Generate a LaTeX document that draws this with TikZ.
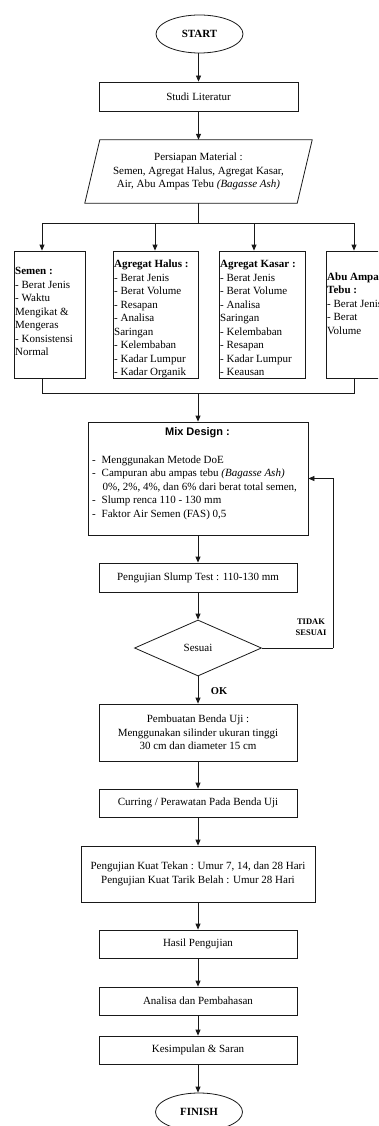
\documentclass[tikz,border=0pt]{standalone}
\usepackage{fontspec}
\setmainfont{Liberation Serif}
\newfontfamily\arialfont{Liberation Sans}
\usetikzlibrary{arrows.meta,shapes.geometric}
\begin{document}
\begin{tikzpicture}[x=1pt,y=-1pt,
  every node/.style={font=\fontsize{11}{13.5}\selectfont, inner sep=0pt},
  ln/.style={line width=0.8pt, draw=black!90},
  box/.style={ln, draw, rectangle, minimum height=29pt, minimum width=199pt, align=center},
  matbox/.style={ln, draw, rectangle, minimum height=127pt},
  term/.style={ln, draw, ellipse, minimum width=87pt, minimum height=38pt, font=\fontsize{11}{13.5}\selectfont\bfseries},
  arr/.style={ln, -{Triangle[length=6pt,width=5pt]}},
  txt/.style={align=left, anchor=west},
]
\useasboundingbox (0,0) rectangle (378,1126);
\fill[white] (0,0) rectangle (378,1126);
\clip (0,0) rectangle (378,1126);

% top
\node[term] (start) at (199.5,34) {START};
\node[box] (studi) at (198.5,96.5) {Studi Literatur};
\node[minimum width=212pt, minimum height=63pt, align=center] (mat) at (198.5,171.5)
  {Persiapan Material :\\Semen, Agregat Halus, Agregat Kasar,\\Air, Abu Ampas Tebu \textit{(Bagasse Ash)}};
\draw[ln] ([xshift=7.5pt]mat.north west) -- ([xshift=7.5pt]mat.north east)
  -- ([xshift=-7.5pt]mat.south east) -- ([xshift=-7.5pt]mat.south west) -- cycle;

\draw[arr] (start.south -| studi.north) -- (studi);
\draw[arr] (studi) -- (mat);

% material boxes
\node[matbox, minimum width=71pt] (semen) at (49.5,314.5) {};
\node[matbox, minimum width=85pt] (halus) at (155.5,314.5) {};
\node[matbox, minimum width=86pt] (kasar) at (262,314.5) {};
\node[matbox, minimum width=66pt] (abu) at (359,314.5) {};

\node[txt] (tsemen) at (15,311.5) {\textbf{Semen :}\\- Berat Jenis\\- Waktu\\Mengikat \&\\Mengeras\\- Konsistensi\\Normal};
\node[txt] (thalus) at (114,319) {\textbf{Agregat Halus :}\\- Berat Jenis\\- Berat Volume\\- Resapan\\- Analisa\\Saringan\\- Kelembaban\\- Kadar Lumpur\\- Kadar Organik};
\node[txt] (tkasar) at (220,318) {\textbf{Agregat Kasar :}\\- Berat Jenis\\- Berat Volume\\- Analisa\\Saringan\\- Kelembaban\\- Resapan\\- Kadar Lumpur\\- Keausan};
\node[txt] (tabu) at (327,303.5) {\textbf{Abu Ampas}\\\textbf{Tebu :}\\- Berat Jenis\\- Berat\\Volume};

\coordinate (j0) at (198.5,223);
\coordinate (jl) at (42,223);
\coordinate (jh) at (155,223);
\coordinate (jk) at (254,223);
\coordinate (jr) at (354,223);
\draw[ln] (mat.south) -- (j0);
\draw[ln] (jl) -- (jr);
\draw[arr] (jl) -- (jl |- semen.north);
\draw[arr] (jh) -- (jh |- halus.north);
\draw[arr] (jk) -- (jk |- kasar.north);
\draw[arr] (jr) -- (jr |- abu.north);

% mix design
\node[ln, draw, minimum width=220pt, minimum height=113pt] (mix) at (198,478.5) {};
\node[font=\fontsize{11}{13.5}\selectfont\arialfont\bfseries] (mixt) at (197.5,433) {Mix Design :};
\node[txt] (mixl) at (92,487.5) {\makebox[9.5pt][l]{-}Menggunakan Metode DoE\\
\makebox[9.5pt][l]{-}Campuran abu ampas tebu \textit{(Bagasse Ash)}\\
\makebox[10.5pt][l]{}0\%, 2\%, 4\%, dan 6\% dari berat total semen,\\
\makebox[9.5pt][l]{-}Slump renca 110 - 130 mm\\
\makebox[9.5pt][l]{-}Faktor Air Semen (FAS) 0,5};

\coordinate (bl) at (42,393);
\coordinate (bm) at (198,393);
\coordinate (br) at (354,393);
\draw[ln] (bl |- semen.south) -- (bl) -- (br) -- (br |- abu.south);
\draw[arr] (bm) -- (mix.north);

% process chain
\node[box, minimum width=198pt] (slump) at (198,577.5) {Pengujian Slump Test : 110-130 mm};
\node[ln, draw, diamond, minimum width=127pt, minimum height=56pt] (dia) at (198,648) {Sesuai};
\node[box, minimum width=198pt, minimum height=57pt] (buat) at (198,732.5)
  {Pembuatan Benda Uji :\\Menggunakan silinder ukuran tinggi\\30 cm dan diameter 15 cm};
\node[box, minimum width=198pt, minimum height=28pt] (curing) at (198,803) {Curring / Perawatan Pada Benda Uji};
\node[box, minimum width=234pt, minimum height=56pt] (uji) at (198,874)
  {Pengujian Kuat Tekan : Umur 7, 14, dan 28 Hari\\Pengujian Kuat Tarik Belah : Umur 28 Hari};
\node[box, minimum width=198pt, minimum height=28pt] (hasil) at (198,944) {Hasil Pengujian};
\node[box, minimum width=198pt, minimum height=28pt] (analisa) at (198,1001) {Analisa dan Pembahasan};
\node[box, minimum width=198pt, minimum height=28pt] (kesim) at (198,1050) {Kesimpulan \& Saran};
\node[term] (finish) at (199,1112) {FINISH};

\draw[arr] (mix.south -| slump.north) -- (slump.north);
\draw[arr] (slump) -- (dia);
\draw[arr] (dia) -- (buat);
\draw[arr] (buat) -- (curing);
\draw[arr] (curing) -- (uji);
\draw[arr] (uji) -- (hasil);
\draw[arr] (hasil) -- (analisa);
\draw[arr] (analisa) -- (kesim);
\draw[arr] (kesim.south) -- (kesim.south |- finish.north);

% feedback
\coordinate (fb) at (333,648);
\draw[ln] (dia.east) -- (fb);
\draw[arr] (fb) |- (mix.east);
\node[font=\fontsize{8.5}{11}\selectfont\bfseries, align=center] (tidak) at (311,627.5) {TIDAK\\SESUAI};
\node[font=\fontsize{10.5}{13}\selectfont\bfseries] (ok) at (219,691) {OK};
\end{tikzpicture}
\end{document}
